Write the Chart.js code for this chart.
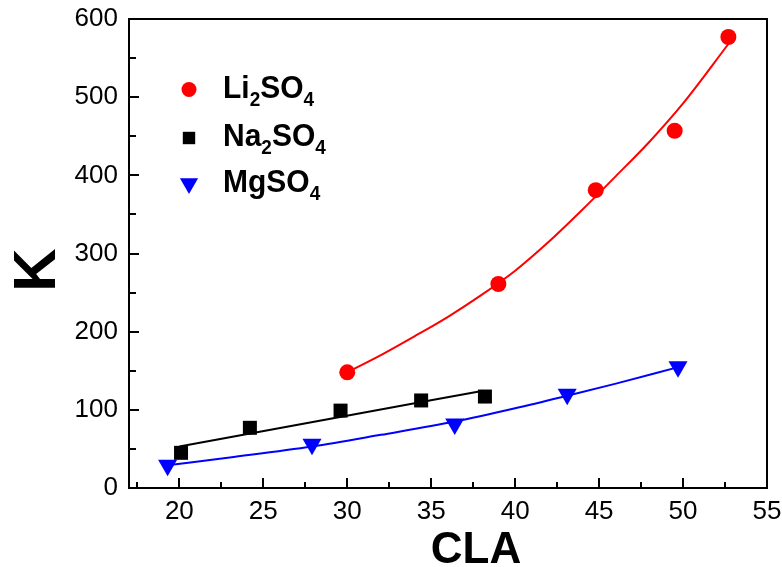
<!DOCTYPE html>
<html>
<head>
<meta charset="utf-8">
<script src="https://cdn.jsdelivr.net/npm/chart.js@4/dist/chart.umd.min.js"></script>
<style>
  html, body { margin: 0; padding: 0; background: #ffffff; }
  #wrap { width: 782px; height: 567px; }
</style>
</head>
<body>
<div id="wrap"><canvas id="c" width="782" height="567"></canvas></div>
<script>
// ---- Data ----
const liX = [30.0, 39.0, 44.8, 49.5, 52.7];
const liY = [148, 261, 381, 457, 577];
const naX = [20.1, 24.2, 29.6, 34.4, 38.2];
const naY = [45, 77, 99, 112, 117];
const mgX = [19.3, 27.9, 36.4, 43.1, 49.7];
const mgY = [29, 56, 82, 120, 155];

// fitted curves
const liFitX = [30, 32, 34, 36, 38, 40, 42, 44, 46, 48, 50, 52.7];
const liFitY = [148, 170, 194, 219, 247, 278, 315, 356, 399, 443, 492, 568];
const naFitX = [20, 29, 38.1];
const naFitY = [53, 88.5, 124.5];
const mgFitX = [19.3, 23, 27.9, 32, 36.4, 40, 43.1, 46, 49.6];
const mgFitY = [29, 39, 53, 68, 85, 102, 118, 133.5, 154];

// axis ticks
const xMajorTicks = [20, 25, 30, 35, 40, 45, 50, 55];
const xMinorTicks = [17.5, 22.5, 27.5, 32.5, 37.5, 42.5, 47.5, 52.5];
const yMajorTicks = [0, 100, 200, 300, 400, 500, 600];
const yMinorTicks = [50, 150, 250, 350, 450, 550];

// legend labels: [text, isSubscript] segments
const legendLi = [['Li', false], ['2', true], ['SO', false], ['4', true]];
const legendNa = [['Na', false], ['2', true], ['SO', false], ['4', true]];
const legendMg = [['MgSO', false], ['4', true]];

const xTitle = 'CLA';
const yTitle = 'K';

function pts(xs, ys) { return xs.map((x, i) => ({ x: x, y: ys[i] })); }

const FONT = "'Liberation Sans', Arial, sans-serif";

const framePlugin = {
  id: 'frame',
  afterDraw(chart) {
    const ctx = chart.ctx;
    const a = chart.chartArea;
    const xs = chart.scales.x, ys = chart.scales.y;
    ctx.save();
    ctx.strokeStyle = '#000';
    ctx.lineWidth = 2;
    ctx.beginPath();
    ctx.rect(a.left, a.top, a.right - a.left, a.bottom - a.top);
    ctx.stroke();
    ctx.lineWidth = 2;
    ctx.beginPath();
    xMajorTicks.forEach(v => { const p = Math.round(xs.getPixelForValue(v)); ctx.moveTo(p, a.bottom); ctx.lineTo(p, a.bottom - 10); });
    xMinorTicks.forEach(v => { const p = Math.round(xs.getPixelForValue(v)); ctx.moveTo(p, a.bottom); ctx.lineTo(p, a.bottom - 6); });
    yMajorTicks.forEach(v => { const p = Math.round(ys.getPixelForValue(v)); ctx.moveTo(a.left, p); ctx.lineTo(a.left + 10, p); });
    yMinorTicks.forEach(v => { const p = Math.round(ys.getPixelForValue(v)); ctx.moveTo(a.left, p); ctx.lineTo(a.left + 7, p); });
    ctx.stroke();

    // axis titles
    ctx.fillStyle = '#000';
    ctx.font = 'bold 44px ' + FONT;
    ctx.textAlign = 'center';
    ctx.textBaseline = 'alphabetic';
    ctx.fillText(xTitle, 476, 563);
    ctx.save();
    ctx.translate(55, 270);
    ctx.rotate(-Math.PI / 2);
    ctx.font = 'bold 60px ' + FONT;
    ctx.textAlign = 'center';
    ctx.fillText(yTitle, 0, 0);
    ctx.restore();

    // legend
    const entries = [
      { segs: legendLi, y: 98, draw: (x, y) => { ctx.fillStyle = '#ff0000'; ctx.beginPath(); ctx.arc(x, y - 8.5, 7.5, 0, Math.PI * 2); ctx.fill(); } },
      { segs: legendNa, y: 146, draw: (x, y) => { ctx.fillStyle = '#000'; ctx.fillRect(x - 6.2, y - 8 - 6.2, 12.4, 12.4); } },
      { segs: legendMg, y: 192, draw: (x, y) => { ctx.fillStyle = '#0000ff'; const cy = y - 8.4, r = 10.5; ctx.beginPath(); ctx.moveTo(x, cy + r); ctx.lineTo(x - r * 0.866, cy - r / 2); ctx.lineTo(x + r * 0.866, cy - r / 2); ctx.closePath(); ctx.fill(); } }
    ];
    const sy = 1.07;
    entries.forEach(e => {
      e.draw(189, e.y);
      let x = 223;
      ctx.fillStyle = '#000';
      ctx.textAlign = 'left';
      e.segs.forEach(([t, sub]) => {
        ctx.font = (sub ? 'bold 19px ' : 'bold 30px ') + FONT;
        const by = e.y + (sub ? 8 : 0);
        ctx.save();
        ctx.translate(x, by);
        ctx.scale(1, sy);
        ctx.fillText(t, 0, 0);
        ctx.restore();
        x += ctx.measureText(t).width;
      });
    });
    ctx.restore();
  }
};

new Chart(document.getElementById('c'), {
  type: 'scatter',
  data: {
    datasets: [
      { label: 'Li2SO4', data: pts(liX, liY), backgroundColor: '#ff0000', borderColor: '#ff0000', pointStyle: 'circle', pointRadius: 8, borderWidth: 0 },
      { label: 'Na2SO4', data: pts(naX, naY), backgroundColor: '#000000', borderColor: '#000000', pointStyle: 'rect', pointRadius: 9.9, borderWidth: 0 },
      { label: 'MgSO4', data: pts(mgX, mgY), backgroundColor: '#0000ff', borderColor: '#0000ff', pointStyle: 'triangle', rotation: 180, pointRadius: 11, borderWidth: 0 },
      { label: 'Li fit', data: pts(liFitX, liFitY), showLine: true, borderColor: '#ff0000', borderWidth: 2, pointRadius: 0, cubicInterpolationMode: 'monotone' },
      { label: 'Na fit', data: pts(naFitX, naFitY), showLine: true, borderColor: '#000000', borderWidth: 2, pointRadius: 0, cubicInterpolationMode: 'monotone' },
      { label: 'Mg fit', data: pts(mgFitX, mgFitY), showLine: true, borderColor: '#0000ff', borderWidth: 2, pointRadius: 0, cubicInterpolationMode: 'monotone' }
    ]
  },
  options: {
    responsive: false,
    animation: false,
    layout: { padding: { left: 0, top: 19, right: 15, bottom: 0 } },
    plugins: { legend: { display: false }, tooltip: { enabled: false } },
    scales: {
      x: {
        type: 'linear', min: 17, max: 55,
        afterBuildTicks: s => { s.ticks = xMajorTicks.map(v => ({ value: v })); },
        afterFit: s => { s.height = 79; s.paddingLeft = 0; s.paddingRight = 0; },
        grid: { display: false, drawTicks: false },
        border: { display: false },
        ticks: { color: '#000', font: { family: FONT, size: 26 }, padding: 8, maxRotation: 0, autoSkip: false }
      },
      y: {
        type: 'linear', min: 0, max: 600,
        afterBuildTicks: s => { s.ticks = yMajorTicks.map(v => ({ value: v })); },
        afterFit: s => { s.width = 129; s.paddingTop = 0; s.paddingBottom = 0; },
        grid: { display: false, drawTicks: false },
        border: { display: false },
        ticks: { color: '#000', font: { family: FONT, size: 26 }, padding: 11, autoSkip: false }
      }
    }
  },
  plugins: [framePlugin]
});
</script>
</body>
</html>
